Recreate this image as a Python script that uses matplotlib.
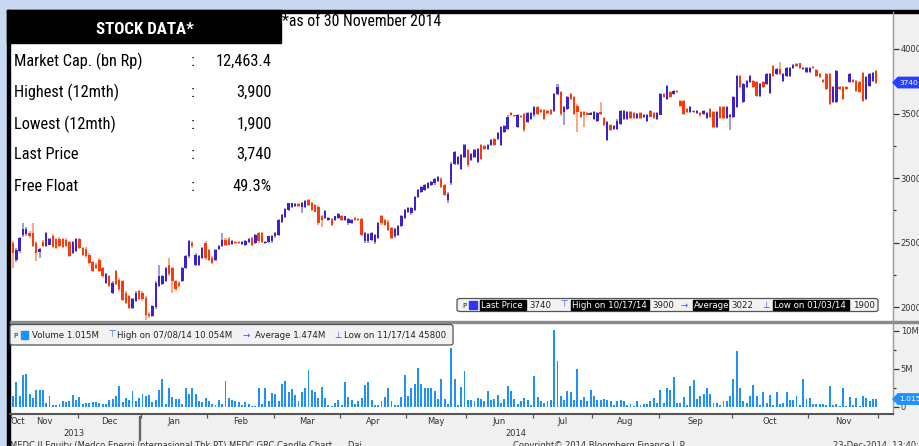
import matplotlib
matplotlib.use("Agg")
import matplotlib.pyplot as plt
from matplotlib.patches import Rectangle, FancyBboxPatch, Polygon
import numpy as np

# ---------------- data ----------------
opens = [2500,2370,2435,2560,2565,2575,2575,2500,2425,2505,
         2475,2485,2555,2530,2530,2530,2522,2503,2420,2434,
         2530,2460,2450,2408,2350,2330,2370,2305,2190,2240,
         2113,2280,2215,2200,2113,2087,1997,2049,2126,2113,
         2075,1950,1935,2000,2165,2177,2203,2330,2305,2203,
         2190,2203,2305,2395,2497,2330,2330,2382,2497,2446,
         2382,2370,2452,2472,2523,2528,2492,2508,2502,2492,
         2485,2503,2536,2497,2574,2574,2500,2503,2510,2549,
         2562,2660,2700,2755,2780,2785,2800,2780,2780,2830,
         2805,2792,2780,2703,2690,2677,2682,2677,2690,2703,
         2677,2651,2651,2690,2682,2682,2510,2510,2523,2503,
         2536,2703,2677,2664,2613,2549,2562,2626,2690,2741,
         2728,2754,2856,2895,2908,2920,2946,2959,2979,2997,
         2946,2830,2959,3113,3113,3074,3164,3215,3138,3164,
         3125,3254,3246,3228,3254,3305,3305,3254,3356,3382,
         3503,3485,3395,3480,3497,3433,3459,3485,3549,3528,
         3528,3523,3528,3523,3651,3664,3510,3536,3651,3626,
         3561,3510,3510,3502,3492,3459,3446,3510,3467,3292,
         3408,3382,3382,3420,3459,3459,3510,3502,3467,3502,
         3472,3446,3518,3502,3459,3492,3651,3613,3664,3651,
         3677,3600,3600,3536,3510,3523,3502,3502,3497,3467,
         3536,3510,3395,3549,3549,3467,3472,3472,3549,3792,
         3587,3703,3741,3754,3741,3638,3741,3728,3656,3869,
         3805,3843,3754,3792,3792,3856,3887,3890,3843,3818,
         3818,3861,3836,3805,3759,3805,3805,3587,3587,3703,
         3703,3703,3741,3759,3754,3741,3817,3612,3715,3753,
         3830]
highs = [2515,2460,2545,2650,2620,2590,2650,2515,2460,2520,
         2585,2540,2565,2540,2545,2540,2535,2515,2510,2540,
         2540,2470,2465,2420,2360,2345,2380,2315,2265,2250,
         2200,2290,2225,2210,2125,2095,2070,2125,2135,2125,
         2085,1960,2020,2200,2330,2250,2315,2380,2315,2215,
         2200,2315,2405,2520,2510,2420,2405,2470,2510,2455,
         2395,2455,2480,2575,2540,2545,2520,2515,2510,2510,
         2520,2535,2545,2570,2585,2585,2512,2555,2560,2580,
         2685,2720,2765,2810,2810,2808,2808,2815,2832,2838,
         2812,2800,2790,2712,2755,2700,2690,2710,2730,2712,
         2710,2690,2685,2698,2690,2690,2582,2578,2582,2570,
         2660,2712,2686,2672,2622,2612,2635,2712,2762,2775,
         2775,2865,2916,2940,2954,2967,2980,2998,3015,3006,
         2955,2890,3122,3212,3172,3186,3262,3224,3198,3224,
         3236,3262,3255,3262,3300,3314,3357,3403,3408,3485,
         3512,3492,3493,3488,3506,3511,3511,3557,3558,3536,
         3536,3531,3536,3660,3730,3672,3557,3634,3660,3634,
         3570,3518,3518,3510,3510,3518,3510,3587,3475,3441,
         3416,3408,3454,3531,3526,3518,3518,3510,3505,3510,
         3500,3493,3526,3510,3510,3660,3660,3723,3672,3685,
         3685,3608,3608,3544,3557,3531,3531,3510,3526,3510,
         3544,3518,3518,3557,3557,3557,3493,3634,3800,3800,
         3736,3762,3800,3762,3749,3736,3749,3813,3813,3877,
         3851,3900,3813,3864,3864,3885,3895,3895,3864,3864,
         3864,3869,3844,3813,3767,3813,3813,3711,3838,3711,
         3711,3711,3813,3767,3762,3749,3825,3787,3813,3825,
         3838]
lows = [2305,2350,2420,2545,2555,2540,2465,2355,2380,2465,
        2465,2480,2460,2450,2470,2460,2470,2390,2410,2425,
        2450,2400,2385,2335,2270,2295,2270,2230,2180,2155,
        2100,2170,2130,2050,2025,1985,1990,2040,2055,2050,
        1900,1920,1925,1990,2155,2170,2195,2245,2113,2130,
        2155,2195,2295,2385,2460,2320,2320,2375,2370,2360,
        2335,2360,2445,2465,2475,2480,2485,2490,2488,2485,
        2475,2495,2475,2490,2500,2495,2490,2495,2500,2540,
        2555,2650,2690,2745,2770,2775,2780,2730,2770,2785,
        2745,2735,2640,2625,2680,2668,2630,2668,2682,2668,
        2668,2640,2642,2668,2665,2550,2500,2495,2515,2490,
        2528,2640,2630,2590,2525,2540,2552,2618,2682,2733,
        2718,2745,2848,2886,2898,2912,2938,2950,2970,2925,
        2860,2805,2950,3105,3105,3065,3155,3090,3130,3155,
        3115,3142,3220,3220,3246,3246,3298,3246,3348,3374,
        3478,3472,3386,3468,3360,3425,3450,3477,3490,3502,
        3450,3495,3490,3515,3643,3480,3408,3528,3605,3490,
        3356,3465,3395,3485,3485,3450,3438,3490,3400,3285,
        3366,3374,3374,3412,3450,3450,3460,3460,3460,3460,
        3465,3438,3470,3460,3450,3485,3618,3605,3618,3643,
        3656,3553,3490,3502,3502,3502,3494,3477,3489,3459,
        3465,3387,3387,3460,3460,3459,3370,3464,3541,3695,
        3579,3695,3733,3695,3630,3630,3695,3720,3648,3784,
        3797,3797,3746,3784,3784,3848,3861,3848,3835,3810,
        3810,3848,3784,3772,3733,3682,3566,3579,3579,3682,
        3605,3682,3733,3733,3669,3656,3592,3604,3707,3745,
        3732]
closes = [2420,2445,2535,2605,2605,2550,2475,2420,2450,2475,
          2575,2525,2470,2460,2478,2470,2478,2400,2503,2530,
          2460,2408,2395,2345,2280,2305,2280,2240,2255,2165,
          2190,2177,2140,2060,2036,1997,2062,2113,2062,2062,
          1940,1935,2010,2190,2240,2240,2305,2255,2203,2140,
          2165,2305,2395,2510,2472,2408,2395,2459,2382,2370,
          2344,2446,2472,2523,2485,2485,2510,2498,2495,2502,
          2510,2528,2485,2562,2510,2503,2505,2549,2554,2574,
          2677,2715,2760,2805,2805,2800,2788,2810,2826,2792,
          2754,2741,2651,2677,2749,2690,2638,2703,2723,2677,
          2703,2682,2677,2677,2672,2562,2574,2570,2574,2562,
          2651,2651,2638,2600,2536,2605,2626,2703,2754,2767,
          2767,2856,2908,2933,2946,2959,2972,2990,3005,2933,
          2869,2880,3113,3202,3164,3177,3254,3100,3190,3215,
          3228,3151,3228,3254,3292,3254,3349,3395,3400,3477,
          3485,3480,3485,3475,3369,3503,3503,3549,3497,3510,
          3459,3503,3497,3651,3703,3500,3549,3626,3613,3497,
          3510,3472,3485,3492,3502,3510,3502,3497,3408,3433,
          3374,3400,3446,3523,3518,3510,3467,3467,3497,3467,
          3492,3485,3477,3467,3502,3651,3626,3715,3626,3677,
          3664,3561,3497,3510,3549,3510,3523,3485,3518,3502,
          3472,3395,3510,3467,3467,3549,3485,3626,3792,3703,
          3728,3754,3792,3703,3638,3728,3703,3805,3805,3792,
          3843,3805,3805,3856,3856,3877,3869,3856,3856,3856,
          3856,3856,3792,3780,3741,3690,3574,3703,3830,3690,
          3613,3690,3805,3741,3677,3664,3600,3779,3805,3817,
          3740]
volume_m = [1.43,3.3,1.4,4.2,4.3,1.7,1.1,2.2,2.2,2.2,
            0.56,1.4,0.2,0.2,0.4,0.8,0.6,0.8,1.5,0.9,
            1.3,0.35,0.5,0.5,0.6,0.65,0.5,0.35,0.35,0.9,
            1.0,1.4,2.7,0.6,1.1,0.9,2.1,0.8,1.1,1.7,
            1.4,1.6,0.6,0.9,2.2,3.6,0.35,2.5,1.3,1.0,
            1.0,0.35,2.4,1.7,2.4,1.7,0.7,0.6,1.1,0.8,
            0.35,0.25,0.9,0.35,3.4,1.2,0.9,0.8,0.6,0.25,
            0.6,0.4,0.1,0.05,2.5,0.35,2.5,0.8,1.8,1.7,
            0.8,3.0,3.4,1.9,2.3,1.5,0.8,1.9,2.5,4.8,
            2.2,2.0,1.2,2.6,1.2,0.2,0.05,0.5,0.9,0.2,
            3.3,1.3,0.9,0.4,0.8,1.1,2.9,3.3,0.9,0.25,
            0.25,0.8,1.3,2.4,0.8,0.25,0.25,1.3,4.2,1.4,
            2.5,3.0,5.1,3.0,2.5,2.5,2.5,2.1,1.0,3.6,
            1.0,0.4,7.7,3.6,0.25,2.6,4.7,0.9,0.9,0.8,
            1.1,1.0,0.7,2.1,0.9,1.0,1.6,0.56,1.0,2.7,
            2.1,1.0,0.35,0.7,1.1,0.9,0.25,4.0,1.3,0.7,
            0.56,0.7,0.9,10.05,6.0,1.4,0.9,2.1,1.9,0.9,
            4.9,0.9,1.3,0.8,2.2,1.4,0.9,0.9,1.0,0.9,
            0.8,0.25,0.8,0.9,0.8,0.25,0.4,0.12,0.7,0.2,
            0.35,0.4,0.7,1.2,0.56,2.2,0.56,2.5,2.2,3.9,
            0.56,0.56,1.3,0.25,2.7,3.5,1.0,1.4,1.7,2.5,
            1.7,0.56,0.56,0.25,0.8,0.7,1.4,3.6,7.3,2.5,
            0.8,0.56,1.4,2.9,1.4,0.25,2.0,0.56,1.6,0.25,
            2.0,0.35,0.56,1.9,0.9,0.9,1.4,0.25,3.6,1.0,
            1.1,0.35,0.4,0.4,0.4,0.25,2.7,0.25,0.4,0.1,
            2.4,0.046,1.3,0.25,1.1,0.12,1.4,1.1,0.7,1.0,
            1.015]

month_starts = [0, 20, 39, 59, 79, 99, 119, 137, 157, 175, 195, 217, 240, 261]
month_names = ["Nov", "Dec", "Jan", "Feb", "Mar", "Apr", "May", "Jun",
               "Jul", "Aug", "Sep", "Oct", "Nov"]

table_labels = ["Market Cap. (bn Rp)", "Highest (12mth)", "Lowest (12mth)",
                "Last Price", "Free Float"]
table_values = ["12,463.4", "3,900", "1,900", "3,740", "49.3%"]

price_ticks = [2000, 2500, 3000, 3500, 4000]
price_minor = [2250, 2750, 3250, 3750]
vol_ticks = [0, 5, 10]
vol_tick_labels = ["0", "5M", "10M"]

# ---------------- figure ----------------
W, H = 920, 446
fig = plt.figure(figsize=(W / 100, H / 100), dpi=100)
fig.patch.set_facecolor('#c6d9f1')


def X(px):
    return px / W


def Y(py):
    return 1 - py / H


def frect(x0, y0, x1, y1, zorder=-1, **kw):
    r = Rectangle((X(x0), Y(y1)), (x1 - x0) / W, (y1 - y0) / H,
                  transform=fig.transFigure, zorder=zorder, **kw)
    fig.add_artist(r)
    return r


def ftext(px, py, s, **kw):
    return fig.text(X(px), Y(py), s, **kw)


NARROW = ['Roboto Condensed', 'IBM Plex Sans Condensed', 'Archivo Narrow',
          'Liberation Sans Narrow', 'DejaVu Sans']
UI = ['DejaVu Sans']

# backgrounds
frect(10, 12, 893, 414, color='white', zorder=-3)
frect(893, 12, 920, 446, color='#f0f0f0', zorder=-3)
frect(10, 414, 920, 446, color='#f0f0f0', zorder=-3)
frect(7, 10, 920, 12.5, color='black', zorder=-2)
frect(7, 10, 10, 446, color='black', zorder=-2)
frect(10, 320.5, 920, 323, color='#8a8a8a', zorder=-2)

x = np.arange(len(closes))
o = np.array(opens, float)
c = np.array(closes, float)
hi = np.array(highs, float)
lo = np.array(lows, float)
v = np.array(volume_m, float)
up = c >= o

XL = (-0.9, 265.06)

ax_p = fig.add_axes([X(10), Y(321), 883 / W, 309 / H])
ax_v = fig.add_axes([X(10), Y(414), 883 / W, 91 / H])
for ax in (ax_p, ax_v):
    ax.set_facecolor('none')
    ax.set_xlim(*XL)
    for s in ('left', 'top', 'bottom'):
        ax.spines[s].set_visible(False)
    ax.spines['right'].set_color('#9a9a9a')
    ax.spines['right'].set_linewidth(1.0)
    ax.yaxis.tick_right()
    ax.tick_params(axis='y', which='major', direction='out', length=4,
                   width=0.9, pad=1.5, labelsize=6, colors='#333333')
    ax.tick_params(axis='y', which='minor', direction='out', length=2,
                   width=0.9, colors='#333333')

# candles
wick_col = np.where(up, '#a89ad8', '#ffa888')
body_col = np.where(up, '#3a22d0', '#ff3a0a')
ax_p.bar(x, hi - lo, bottom=lo, width=0.62, color=wick_col, linewidth=0)
body_lo = np.minimum(o, c)
body_h = np.maximum(np.abs(c - o), 6)
ax_p.bar(x, body_h, bottom=body_lo, width=0.72, color=body_col, linewidth=0)
ax_p.set_ylim(1894, 4286)
ax_p.set_yticks(price_ticks)
ax_p.set_yticks(price_minor, minor=True)
ax_p.set_xticks([])
for lab in ax_p.get_yticklabels():
    lab.set_family(UI)

# volume
ax_v.bar(x, v, width=0.58, color='#1e90ff', linewidth=0)
ax_v.set_ylim(-0.95, 11.0)
ax_v.set_yticks(vol_ticks)
ax_v.set_yticklabels(vol_tick_labels, family=UI)
ax_v.set_yticks([2.5, 7.5], minor=True)
ax_v.spines['bottom'].set_visible(True)
ax_v.spines['bottom'].set_color('#555555')
ax_v.spines['bottom'].set_linewidth(1.5)
bounds = [m - 0.5 for m in month_starts]
ax_v.set_xticks(bounds)
ax_v.set_xticklabels([])
ax_v.tick_params(axis='x', direction='out', length=3, width=0.9, colors='#555555')

# month labels
tr = ax_v.get_xaxis_transform()
yl = (414 - 421.5) / 91
ftext(11, 421.5, "Oct", ha='left', va='center', fontsize=6, color='#333333',
      family=UI)
for i, name in enumerate(month_names):
    mid = (month_starts[i] + month_starts[i + 1] - 1) / 2
    ax_v.text(mid, yl, name, transform=tr, ha='center', va='center',
              fontsize=6, color='#333333', family=UI, clip_on=False)
ftext(74, 433, "2013", ha='center', va='center', fontsize=6, color='#333333', family=UI)
ftext(516, 433, "2014", ha='center', va='center', fontsize=6, color='#333333', family=UI)
frect(139, 416, 140, 440, color='#666666', zorder=2)

# bottom info text (cut by the lower edge, as in the source screenshot)
ftext(10, 441.2, "MEDC IJ Equity (Medco Energi Internasional Tbk PT) MEDC GRC Candle Chart      Dai",
      va='top', fontsize=6, color='#333333', family=UI)
ftext(513, 441.2, "Copyright\u00a9 2014 Bloomberg Finance L.P.", va='top', fontsize=6,
      color='#333333', family=UI)
ftext(833, 441.2, "23-Dec-2014  13:40:12", va='top', fontsize=6, color='#333333', family=UI)

# value tags on the right axis
fig.canvas.draw()


def tag(yc, text, color):
    h = 5.2
    pts = [(893, yc), (898, yc - h), (921, yc - h), (921, yc + h), (898, yc + h)]
    fig.add_artist(Polygon([(X(a), Y(b)) for a, b in pts], closed=True,
                           transform=fig.transFigure, color=color, zorder=6))
    ftext(899, yc, text, ha='left', va='center', fontsize=5.4, color='white',
          family=UI, zorder=7)


yp = H - ax_p.transData.transform((0, closes[-1]))[1]
tag(yp, "%d" % closes[-1], '#2540ff')
yv = H - ax_v.transData.transform((0, volume_m[-1]))[1]
tag(yv, "%.3f" % volume_m[-1], '#1e90ff')


# legends
def lbox(x0, y0, x1, y1):
    fig.add_artist(FancyBboxPatch((X(x0), Y(y1)), (x1 - x0) / W, (y1 - y0) / H,
                                  boxstyle="round,pad=0,rounding_size=0.004",
                                  transform=fig.transFigure, facecolor='#f2f2f2',
                                  edgecolor='#555555', linewidth=0.9, zorder=5))


def blk(x0, x1, yc, s):
    frect(x0, yc - 4.6, x1, yc + 4.6, color='black', zorder=6)
    ftext(x0 + 1.2, yc, s, ha='left', va='center', fontsize=6.2, color='white',
          family=UI, zorder=7)


def plain(x0, yc, s, color='#222222', size=6.2):
    ftext(x0, yc, s, ha='left', va='center', fontsize=size, color=color,
          family=UI, zorder=7)


# price legend
yc = 305
lbox(457, 298.5, 878, 311.5)
plain(462, yc, "\u1D18", color='#444444', size=6)
frect(469.5, yc - 4, 477, yc + 4, color='#3333ff', zorder=6)
blk(480, 526, yc, "Last Price")
plain(529, yc, "3740")
plain(560, yc, "\u22A4", color='#3355ff')
blk(571, 649, yc, "High on 10/17/14")
plain(652, yc, "3900")
plain(681, yc, "\u2192", color='#3355ff')
blk(693, 728, yc, "Average")
plain(731, yc, "3022")
plain(762, yc, "\u22A5", color='#3355ff')
blk(773, 849, yc, "Low on 01/03/14")
plain(853, yc, "1900")

# volume legend
yc = 335
lbox(10, 324.5, 453, 345)
plain(13, yc, "\u1D18", color='#444444', size=6)
frect(21, yc - 4, 28.5, yc + 4, color='#1e90ff', zorder=6)
plain(32, yc, "Volume 1.015M")
plain(108, yc, "\u22A4", color='#3355ff')
plain(117, yc, "High on 07/08/14 10.054M")
plain(243, yc, "\u2192", color='#3355ff')
plain(255, yc, "Average 1.474M")
plain(334, yc, "\u22A5", color='#3355ff')
plain(344, yc, "Low on 11/17/14 45800")

# stock data table
frect(7, 10, 281, 43, color='black', zorder=4)
ftext(145, 34, "STOCK DATA*", ha='center', va='baseline', fontsize=12.2,
      fontweight='bold', color='white', family=NARROW, zorder=5)
ftext(282.5, 25.5, "*as of 30 November 2014", ha='left', va='baseline', fontsize=11.3,
      color='black', family=NARROW, zorder=5)
row_base = [66, 97.3, 129.3, 159.3, 190.7]
for lab, val, yb in zip(table_labels, table_values, row_base):
    ftext(14, yb, lab, ha='left', va='baseline', fontsize=11.8, color='black',
          family=NARROW, zorder=5)
    ftext(193, yb, ":", ha='center', va='baseline', fontsize=11.8, color='black',
          family=NARROW, zorder=5)
    ftext(272, yb, val, ha='right', va='baseline', fontsize=11.8, color='black',
          family=NARROW, zorder=5)

fig.savefig("out.png", dpi=100, facecolor=fig.get_facecolor())
